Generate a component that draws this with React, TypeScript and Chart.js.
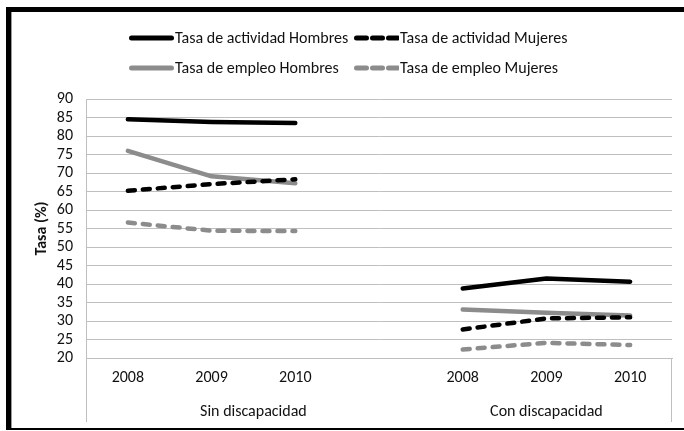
import React, { useEffect, useRef } from "react";
import { Chart, registerables } from "chart.js";

Chart.register(...registerables);

// ---- data ----
const yearLabels = ["2008", "2009", "2010"];
const groupLabels = ["Sin discapacidad", "Con discapacidad"];
const seriesNames = [
  "Tasa de actividad Hombres",
  "Tasa de actividad Mujeres",
  "Tasa de empleo Hombres",
  "Tasa de empleo Mujeres",
];
const actividadHombresSin = [84.5, 83.8, 83.5];
const actividadHombresCon = [38.8, 41.5, 40.6];
const actividadMujeresSin = [65.2, 67.0, 68.3];
const actividadMujeresCon = [27.7, 30.7, 31.0];
const empleoHombresSin = [76.0, 69.1, 67.2];
const empleoHombresCon = [33.1, 32.2, 31.5];
const empleoMujeresSin = [56.6, 54.4, 54.3];
const empleoMujeresCon = [22.3, 24.1, 23.5];
const yMin = 20;
const yMax = 90;
const yStep = 5;
const yTitle = "Tasa (%)";

// ---- styles ----
const FONT = "Carlito, Lato, sans-serif";
const FS = 16;
const GRID = "#bfbfbf";
const BLACK = "#000000";
const GRAY = "#8c8c8c";
const TEXT = "#111111";

const categories = [...yearLabels, "", ...yearLabels];
const join = (a: number[], b: number[]) => [...a, null, ...b];

const seriesStyles = [
  { color: BLACK, dash: [] as number[] },
  { color: BLACK, dash: [7, 8] },
  { color: GRAY, dash: [] as number[] },
  { color: GRAY, dash: [7, 8] },
];
const seriesData = [
  join(actividadHombresSin, actividadHombresCon),
  join(actividadMujeresSin, actividadMujeresCon),
  join(empleoHombresSin, empleoHombresCon),
  join(empleoMujeresSin, empleoMujeresCon),
];

const groupPlugin = {
  id: "groupLabels",
  afterDraw(chart: any) {
    const { ctx, chartArea } = chart;
    const x = chart.scales.x;
    const step = x.getPixelForTick(1) - x.getPixelForTick(0);
    const half = step / 2;
    const lineBottom = 422;
    ctx.save();
    ctx.strokeStyle = GRID;
    ctx.lineWidth = 1;
    ctx.beginPath();
    ctx.moveTo(Math.round(chartArea.left) + 0.5, chartArea.bottom);
    ctx.lineTo(Math.round(chartArea.left) + 0.5, lineBottom);
    ctx.moveTo(Math.round(chartArea.right) - 0.5, chartArea.bottom);
    ctx.lineTo(Math.round(chartArea.right) - 0.5, lineBottom);
    ctx.stroke();
    ctx.fillStyle = TEXT;
    ctx.font = `${FS}px ${FONT}`;
    ctx.textAlign = "center";
    ctx.textBaseline = "middle";
    const g0 = (x.getPixelForTick(0) - half + x.getPixelForTick(3) + half) / 2;
    const g1 = (x.getPixelForTick(4) - half + x.getPixelForTick(6) + half) / 2;
    ctx.fillText(groupLabels[0], g0, 412);
    ctx.fillText(groupLabels[1], g1, 412);
    ctx.restore();
  },
};

function LegendItem({ name, color, dash, left, top }: { name: string; color: string; dash: number[]; left: number; top: number }) {
  return (
    <div style={{ display: "flex", alignItems: "center", position: "absolute", left, top, height: 20 }}>
      <svg width={45} height={8} style={{ display: "block", marginRight: 1 }}>
        <line
          x1={2.5}
          y1={4}
          x2={dash.length ? 44 : 42.5}
          y2={4}
          stroke={color}
          strokeWidth={5}
          strokeLinecap="round"
          strokeDasharray={dash.length ? "10 6" : undefined}
        />
      </svg>
      <span style={{ fontFamily: FONT, fontSize: `${FS}px`, color: TEXT, whiteSpace: "nowrap", lineHeight: "20px" }}>{name}</span>
    </div>
  );
}

export default function App() {
  const ref = useRef<HTMLCanvasElement | null>(null);

  useEffect(() => {
    if (!ref.current) return;
    const chart = new Chart(ref.current, {
      type: "line",
      data: {
        labels: categories,
        datasets: seriesNames.map((name, i) => ({
          label: name,
          data: seriesData[i],
          borderColor: seriesStyles[i].color,
          backgroundColor: seriesStyles[i].color,
          borderWidth: 4.5,
          borderDash: seriesStyles[i].dash,
          borderCapStyle: "round" as const,
          borderJoinStyle: "round" as const,
          pointRadius: 0,
          pointHoverRadius: 0,
          spanGaps: false,
          tension: 0,
        })),
      },
      options: {
        animation: false,
        responsive: false,
        layout: { padding: { left: 12, top: 99, right: 12, bottom: 0 } },
        plugins: {
          legend: { display: false },
          tooltip: { enabled: false },
        },
        scales: {
          x: {
            type: "category",
            offset: true,
            grid: { display: false, drawTicks: false },
            border: { display: true, color: GRID },
            ticks: {
              color: TEXT,
              font: { family: FONT, size: FS },
              padding: 10,
              maxRotation: 0,
              autoSkip: false,
            },
            afterFit(scale: any) {
              scale.height = 73;
            },
          },
          y: {
            min: yMin,
            max: yMax,
            grid: { color: GRID, drawTicks: false },
            border: { display: true, color: GRID },
            ticks: {
              stepSize: yStep,
              autoSkip: false,
              color: TEXT,
              font: { family: FONT, size: FS },
              padding: 13,
            },
            title: {
              display: true,
              text: yTitle,
              color: TEXT,
              font: { family: FONT, size: FS, weight: "bold" },
              padding: { top: 20, bottom: 0 },
            },
            afterFit(scale: any) {
              scale.width = 74;
            },
          },
        },
      },
      plugins: [groupPlugin],
    });
    return () => chart.destroy();
  }, []);

  return (
    <div style={{ position: "absolute", left: 0, top: 0, width: 684, height: 431, background: "#fff", overflow: "hidden" }}>
      <div
        style={{
          position: "absolute",
          left: 6,
          top: 7,
          width: 700,
          height: 423,
          boxSizing: "border-box",
          borderLeft: "5px solid #000",
          borderTop: "5px solid #000",
          borderBottom: "2px solid #000",
        }}
      />
      <div style={{ position: "absolute", left: 11, top: 12, width: 1, height: 416, background: "#9a9a9a" }} />
      <canvas ref={ref} width={684} height={431} style={{ position: "absolute", left: 0, top: 0 }} />
      <LegendItem name={seriesNames[0]} color={seriesStyles[0].color} dash={seriesStyles[0].dash} left={129} top={28} />
      <LegendItem name={seriesNames[1]} color={seriesStyles[1].color} dash={seriesStyles[1].dash} left={354} top={28} />
      <LegendItem name={seriesNames[2]} color={seriesStyles[2].color} dash={seriesStyles[2].dash} left={129} top={58} />
      <LegendItem name={seriesNames[3]} color={seriesStyles[3].color} dash={seriesStyles[3].dash} left={354} top={58} />
    </div>
  );
}
